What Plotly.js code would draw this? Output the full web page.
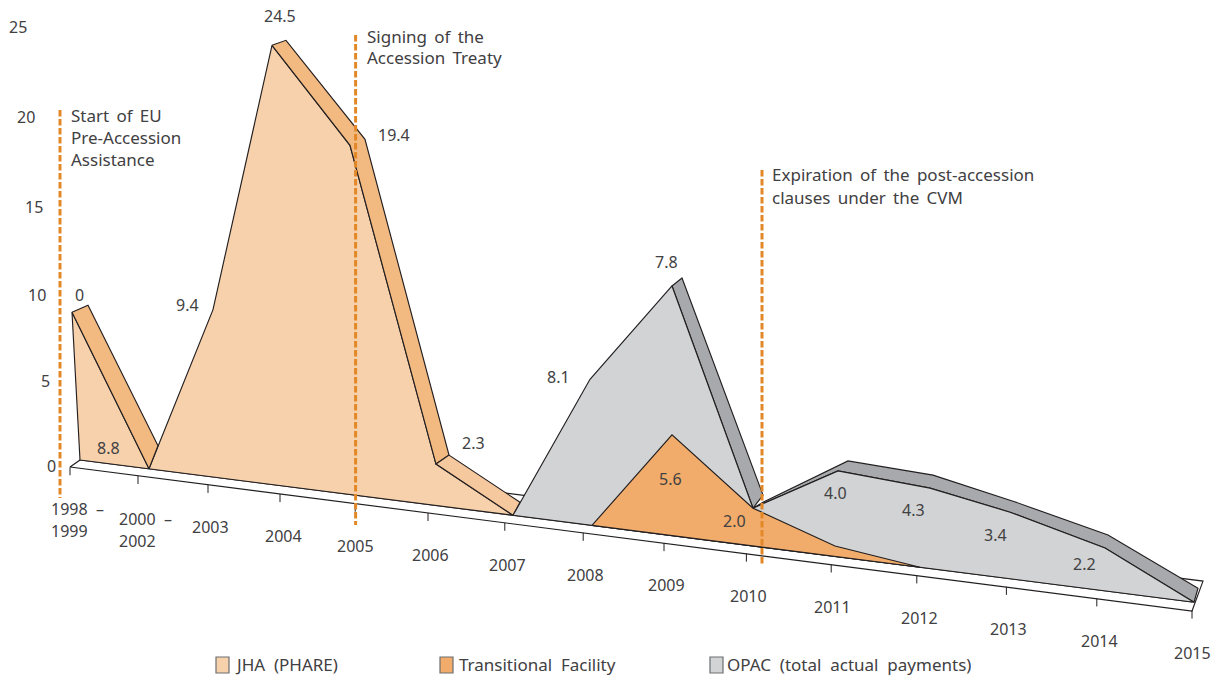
<!DOCTYPE html>
<html>
<head>
<meta charset="utf-8">
<script src="https://cdn.plot.ly/plotly-3.0.1.min.js"></script>
<style>html,body{margin:0;padding:0;background:#fff}</style>
</head>
<body>
<div id="chart" style="width:1220px;height:676px"></div>
<script>
// ---- chart values ----
const periods = ['1998 –|1999','2000 –|2002','2003','2004','2005','2006','2007','2008','2009','2010','2011','2012','2013','2014','2015'];
const jhaSlots  = [-0.1, 0.8625, 1.6625, 2.4, 3.375, 4.45, 5.4125];
const jhaValues = [8.15, 0, 9.3, 24.4, 19.4, 2.3, 0];
const tfSlots   = [6.4, 7.4, 8.4125, 9.4375, 10.5];
const tfValues  = [0, 5.6, 2.1, 0.58, 0];
const opacSlots = [5.4125, 6.375, 7.4, 8.4125, 9.475, 10.625, 11.625, 12.8125, 13.925];
const opacTotal = [0, 8.1, 13.87, 2.1, 4.77, 4.47, 3.7, 2.38, 0];
const tickSlots = [-0.125,0.725,1.6,2.5,3.44,4.35,5.31,6.29,7.3,8.33,9.39,10.46,11.58,12.71,13.9];
const yTickText = ['25','20','15','10','5','0'];
const valueLabels = ['0','8.8','9.4','24.5','19.4','2.3','8.1','7.8','5.6','2.0','4.0','4.3','3.4','2.2'];
const legendNames = ['JHA (PHARE)','Transitional Facility','OPAC (total actual payments)'];

// ---- geometry of the oblique projection ----
const SKEW = 0.5676;              // baseline fall, value units per slot
const Z = (s, v) => v - SKEW * s; // plane position of a value at a slot
const PX = 80, PY = 18;           // px per slot, px per value unit
const jhaDepthX = [16, 9, 0, 14, 15, 13, 7], jhaDepthY = [7, 23, 0, 5, 6, 9, 13];
const opacDepthX = [0, 0, 10, 10, 10, 3, 3, 3, 4], opacDepthY = [0, 0, 8, 13, 10, 13, 11, 13, 14];
const LINE = '#231f20', TXT = '#414042', FONT = '"Noto Sans", "Open Sans", sans-serif';
const C = {jha:'#f7d1ac', jhaBand:'#f2b981', jhaBand2:'#f5c99d', tf:'#f1ac6b', opac:'#d1d3d4', opacBand:'#a7a9ac', evt:'#e38826'};

const poly = (name, xs, ys, fill) => ({type:'scatter', mode:'lines', name, x:xs.concat(xs[0]), y:ys.concat(ys[0]), fill:'toself', fillcolor:fill,
  line:{color:LINE, width:1.15}, hoverinfo:'skip', showlegend:false});
// depth ribbon behind the front edge, from vertex a to vertex b
const ribbon = (name, slots, vals, dx, dy, a, b, fill, startDx, startDy) => {
  const fx=[],fy=[],bx=[],by=[];
  for(let i=a;i<=b;i++){
    const ddx = (i===a && startDx!==undefined)?startDx:dx[i], ddy = (i===a && startDy!==undefined)?startDy:dy[i];
    fx.push(slots[i]); fy.push(Z(slots[i],vals[i]));
    bx.push(slots[i]+ddx/PX); by.push(Z(slots[i],vals[i])+ddy/PY);
  }
  return poly(name, fx.concat(bx.reverse()), fy.concat(by.reverse()), fill);
};

const traces = [];
// floor slab
traces.push(poly('Floor', [-0.125,0,0.125,14.0375,13.9], [Z(-0.125,-0.46),0,Z(0.125,1.15),Z(14.0375,1.24),Z(13.9,-0.5)], '#ffffff'));
traces.push({type:'scatter',mode:'lines',name:'Baseline',x:[0,13.9],y:[0,Z(13.9,0)],line:{color:LINE,width:1.15},hoverinfo:'skip',showlegend:false});
// axis ticks
const tx=[],ty=[];
tickSlots.forEach(s=>{tx.push(s,s,null);ty.push(Z(s,-0.47),Z(s,-0.92),null);});
traces.push({type:'scatter',mode:'lines',name:'Ticks',x:tx,y:ty,line:{color:LINE,width:1},hoverinfo:'skip',showlegend:false});
// JHA
traces.push(poly(legendNames[0], [0].concat(jhaSlots), [0].concat(jhaSlots.map((s,i)=>Z(s,jhaValues[i]))), C.jha));
traces.push(ribbon('JHA depth',jhaSlots,jhaValues,jhaDepthX,jhaDepthY,0,1,C.jhaBand));
traces.push(ribbon('JHA depth',jhaSlots,jhaValues,jhaDepthX,jhaDepthY,3,5,C.jhaBand));
traces.push(ribbon('JHA depth',jhaSlots,jhaValues,jhaDepthX,jhaDepthY,5,6,C.jhaBand2));
// OPAC depth, then area
traces.push(ribbon('OPAC depth',opacSlots,opacTotal,opacDepthX,opacDepthY,2,3,C.opacBand));
traces.push(ribbon('OPAC depth',opacSlots,opacTotal,opacDepthX,opacDepthY,3,8,C.opacBand,10,6));
traces.push(poly(legendNames[2], opacSlots, opacSlots.map((s,i)=>Z(s,opacTotal[i])), C.opac));
// Transitional Facility
traces.push(poly(legendNames[1], tfSlots, tfSlots.map((s,i)=>Z(s,tfValues[i])), C.tf));
// event markers
[[-0.25,110,498],[3.445,35,525],[8.525,170,565]].forEach(([s,a,b])=>{
  traces.push({type:'scatter',mode:'lines',name:'Event',x:[s,s],y:[(460-a)/PY,(460-b)/PY],
    line:{color:C.evt,width:3,dash:'6.5px,2.5px'},hoverinfo:'skip',showlegend:false});
});

// ---- text ----
const ann = [];
const put = (text,px,py,anchor,size) => ann.push({text, xref:'paper', yref:'paper', x:px/1220, y:1-py/676,
  xanchor:anchor||'center', yanchor:'middle', showarrow:false, align:'left', borderpad:0,
  font:{family:FONT,size:size||16,color:TXT}});
const gap = t => t.replace(/ /g,'\u00a0\u2009');
const gap2 = t => t.replace(/ /g,'\u00a0\u00a0');
// y axis labels lean with the oblique frame
const yLabelX=[18,26,34,37,45,51], yLabelY=[27,117,207,295,381,466];
yTickText.forEach((t,i)=>put(t,yLabelX[i],yLabelY[i]));
// period labels
const pX=[50,118,210,283,355,430,507,585,666,748,832,919,1008,1099,1192];
const pY=[509,519,527,536,546,555,565,575,585,596,607,618,629,641,653];
periods.forEach((p,i)=>{
  const parts=p.split('|');
  if(parts.length>1){ put(gap2(parts[0]),pX[i],pY[i],'left'); put(parts[1],pX[i],pY[i]+22,'left'); }
  else put(p,pX[i],pY[i]);
});
// value labels
const vX=[79,108,187,280,394,473,558,666,670,735,835,913,995,1084];
const vY=[295,448,305,16,135,443,377,262,479,521,493,510,535,564];
valueLabels.forEach((t,i)=>put(t,vX[i],vY[i]));
// event notes
[['Start of EU',69.5,115],['Pre-Accession',69.5,137],['Assistance',69.5,159],
 ['Signing of the',365.5,36],['Accession Treaty',365.5,58],
 ['Expiration of the post-accession',770.5,175],['clauses under the CVM',770.5,197]]
 .forEach(([t,x,y])=>put(gap(t),x,y,'left',17));
// legend
const swX=[216,440,710], txX=[234,458,726], swCol=[C.jha,C.tf,C.opac];
legendNames.forEach((n,i)=>put(gap2(n),txX[i],664,'left',17));
const shapes = swX.map((x,i)=>({type:'rect',xref:'paper',yref:'paper',x0:x/1220,x1:(x+13)/1220,y0:1-673/676,y1:1-657/676,
  fillcolor:swCol[i],line:{color:'#6d6e71',width:1.2}}));

Plotly.newPlot('chart', traces, {
  width:1220, height:676, margin:{l:0,r:0,t:0,b:0,pad:0},
  paper_bgcolor:'#ffffff', plot_bgcolor:'#ffffff', showlegend:false,
  xaxis:{range:[-1,14.25],visible:false,fixedrange:true},
  yaxis:{range:[-12,25.556],visible:false,fixedrange:true},
  annotations:ann, shapes
}, {displayModeBar:false, staticPlot:true});
</script>
</body>
</html>
